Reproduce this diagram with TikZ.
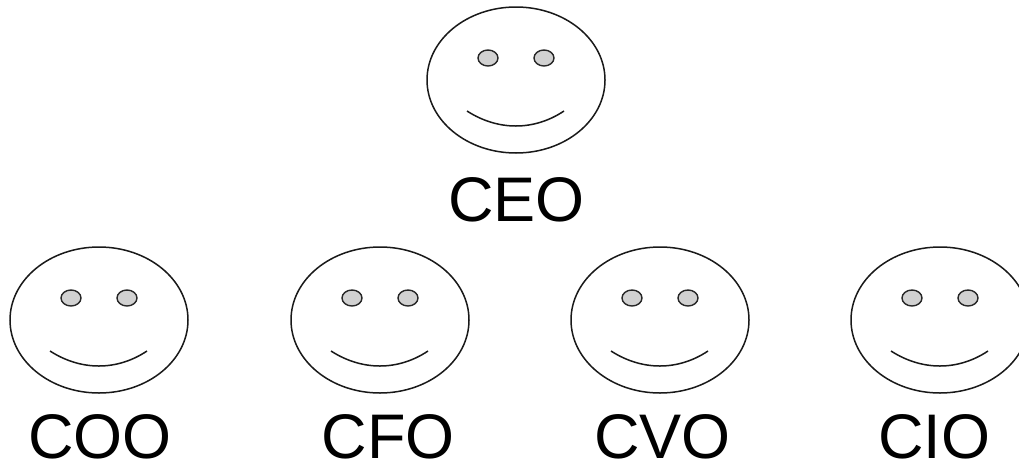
\documentclass[tikz,border=0pt]{standalone}
\usepackage{fontspec}
\setmainfont{Liberation Sans}
\usetikzlibrary{shapes.geometric}
\tikzset{
 x=1pt,y=-1pt,
 face/.style={ellipse,draw=black!90,line width=1.5pt,fill=white,minimum width=178pt,minimum height=146pt,inner sep=0pt},
 eye/.style={ellipse,draw=black!85,line width=1.4pt,fill=black!18,minimum width=20pt,minimum height=16pt,inner sep=0pt},
 smile/.style={line width=1.5pt,draw=black!90},
 lbl/.style={font=\fontsize{63}{63}\selectfont,inner sep=0pt,anchor=base}
}
\begin{document}
\begin{tikzpicture}
\useasboundingbox (0,0) rectangle (1019,461);
\foreach \n/\cx/\cy/\t/\tx/\ty in {a/516/80/CEO/516.5/221,b/99/320/COO/100/458,c/380/320/CFO/388/458,d/660/320/CVO/662.5/458,e/940/320/CIO/934.5/458}{
 \node[face] (\n) at (\cx,\cy) {};
 \node[eye] (\n l) at (\cx-28,\cy-22) {};
 \node[eye] (\n r) at (\cx+28,\cy-22) {};
 \draw[smile] (\cx-49,\cy+31) .. controls (\cx-18,\cy+51) and (\cx+18,\cy+51) .. (\cx+48,\cy+31);
 \node[lbl] (\n t) at (\tx,\ty) {\t};
}
\end{tikzpicture}
\end{document}
